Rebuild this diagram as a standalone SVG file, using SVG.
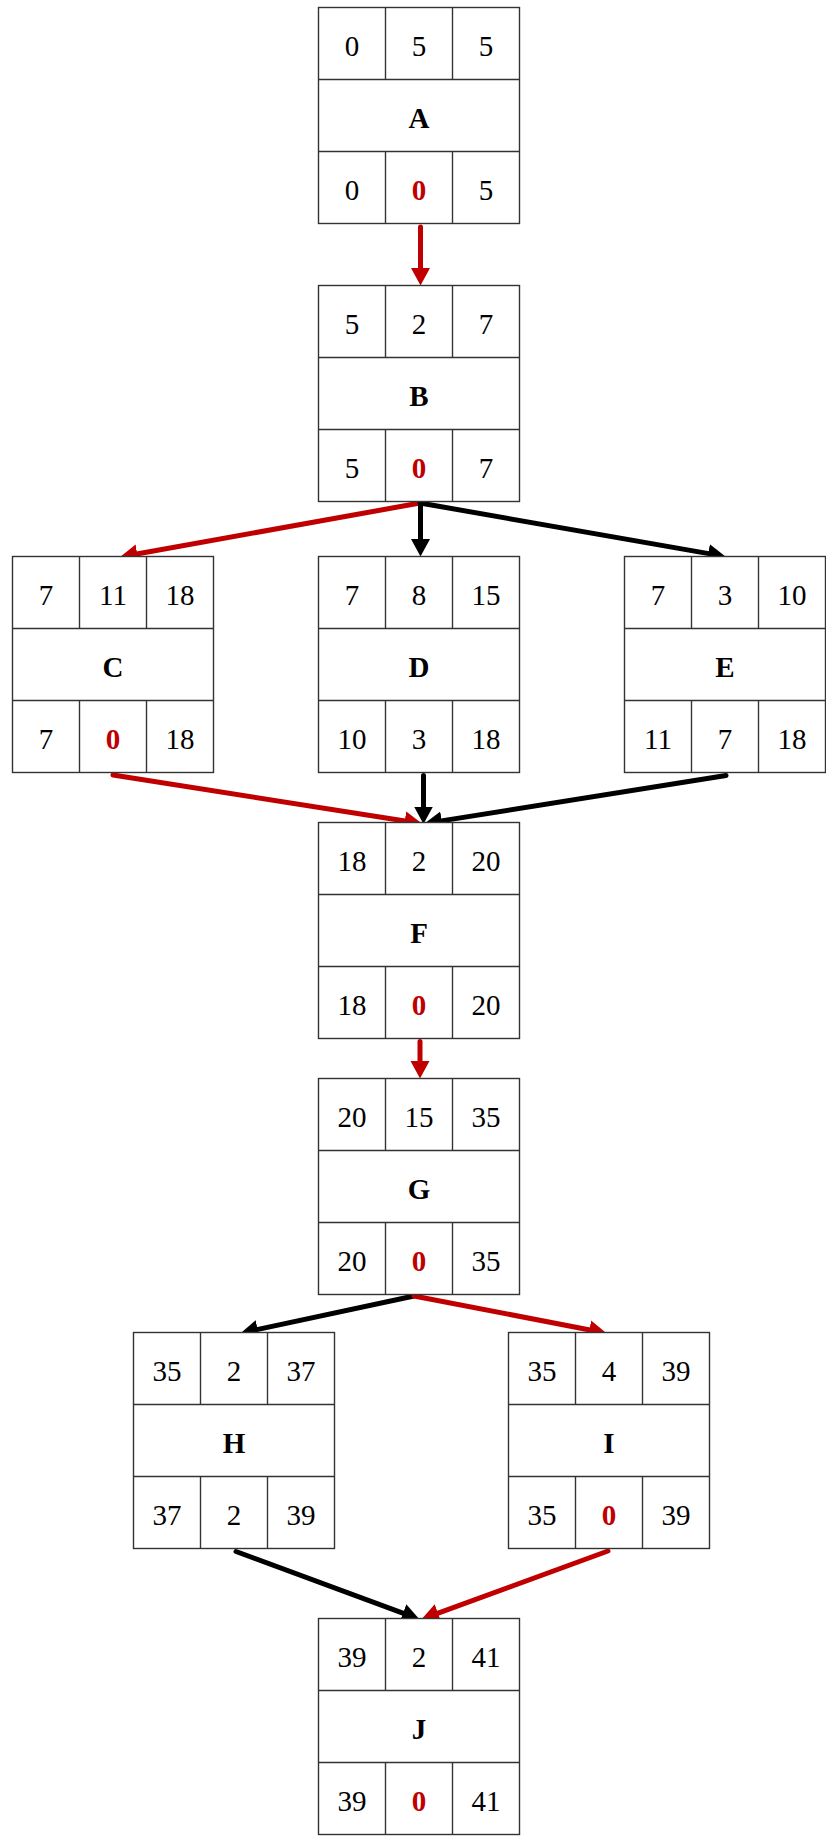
<svg xmlns="http://www.w3.org/2000/svg" width="826" height="1843" viewBox="0 0 826 1843">
<style>
.box{fill:#fff;stroke:#333;stroke-width:1.4}
.div{stroke:#333;stroke-width:1.4}
.t{font-family:"Liberation Serif","Times New Roman",serif;font-size:29px;text-anchor:middle;fill:#000}
.b{font-weight:bold}
.r{fill:#c00000;font-weight:bold}
.e{fill:none;stroke-width:5;stroke-linecap:round}
.ek{stroke:#000}
.er{stroke:#c00000}
</style>
<defs>
<marker id="ak" markerUnits="userSpaceOnUse" markerWidth="20" markerHeight="20" viewBox="0 -10 20 20" refX="2" refY="0" orient="auto"><path d="M0,-9.5 L17.5,0 L0,9.5 z" fill="#000"/></marker>
<marker id="ar" markerUnits="userSpaceOnUse" markerWidth="20" markerHeight="20" viewBox="0 -10 20 20" refX="2" refY="0" orient="auto"><path d="M0,-9.5 L17.5,0 L0,9.5 z" fill="#c00000"/></marker>
<g id="frame">
<rect class="box" x="0" y="0" width="201" height="216"/>
<line class="div" x1="0" y1="72" x2="201" y2="72"/>
<line class="div" x1="0" y1="144" x2="201" y2="144"/>
<line class="div" x1="67" y1="0" x2="67" y2="72"/>
<line class="div" x1="134" y1="0" x2="134" y2="72"/>
<line class="div" x1="67" y1="144" x2="67" y2="216"/>
<line class="div" x1="134" y1="144" x2="134" y2="216"/>
</g>
</defs>
<g id="connectors">
<line class="e er" x1="420.5" y1="227" x2="420.5" y2="270" marker-end="url(#ar)"/>
<line class="e er" x1="420" y1="503" x2="135.3" y2="554.3" marker-end="url(#ar)"/>
<line class="e ek" x1="420.5" y1="503" x2="420.5" y2="541" marker-end="url(#ak)"/>
<line class="e ek" x1="420" y1="503" x2="710.2" y2="553.9" marker-end="url(#ak)"/>
<line class="e er" x1="113" y1="775" x2="406.7" y2="821.2" marker-end="url(#ar)"/>
<line class="e ek" x1="423.5" y1="775.5" x2="423.5" y2="808.5" marker-end="url(#ak)"/>
<line class="e ek" x1="726" y1="775.5" x2="439.8" y2="821.1" marker-end="url(#ak)"/>
<line class="e er" x1="420" y1="1041.5" x2="420" y2="1063" marker-end="url(#ar)"/>
<line class="e ek" x1="414" y1="1296" x2="255.7" y2="1329.9" marker-end="url(#ak)"/>
<line class="e er" x1="414" y1="1296" x2="591.3" y2="1330.2" marker-end="url(#ar)"/>
<line class="e ek" x1="236" y1="1551.5" x2="404.9" y2="1613.8" marker-end="url(#ak)"/>
<line class="e er" x1="608" y1="1551" x2="436.1" y2="1613.9" marker-end="url(#ar)"/>
</g>
<g id="A" transform="translate(318.5,7.5)"><use href="#frame"/>
<text class="t" x="33.5" y="48">0</text><text class="t" x="100.5" y="48">5</text><text class="t" x="167.5" y="48">5</text>
<text class="t b" x="100.5" y="120">A</text>
<text class="t" x="33.5" y="192">0</text><text class="t r" x="100.5" y="192">0</text><text class="t" x="167.5" y="192">5</text></g>
<g id="B" transform="translate(318.5,285.5)"><use href="#frame"/>
<text class="t" x="33.5" y="48">5</text><text class="t" x="100.5" y="48">2</text><text class="t" x="167.5" y="48">7</text>
<text class="t b" x="100.5" y="120">B</text>
<text class="t" x="33.5" y="192">5</text><text class="t r" x="100.5" y="192">0</text><text class="t" x="167.5" y="192">7</text></g>
<g id="C" transform="translate(12.5,556.5)"><use href="#frame"/>
<text class="t" x="33.5" y="48">7</text><text class="t" x="100.5" y="48">11</text><text class="t" x="167.5" y="48">18</text>
<text class="t b" x="100.5" y="120">C</text>
<text class="t" x="33.5" y="192">7</text><text class="t r" x="100.5" y="192">0</text><text class="t" x="167.5" y="192">18</text></g>
<g id="D" transform="translate(318.5,556.5)"><use href="#frame"/>
<text class="t" x="33.5" y="48">7</text><text class="t" x="100.5" y="48">8</text><text class="t" x="167.5" y="48">15</text>
<text class="t b" x="100.5" y="120">D</text>
<text class="t" x="33.5" y="192">10</text><text class="t" x="100.5" y="192">3</text><text class="t" x="167.5" y="192">18</text></g>
<g id="E" transform="translate(624.5,556.5)"><use href="#frame"/>
<text class="t" x="33.5" y="48">7</text><text class="t" x="100.5" y="48">3</text><text class="t" x="167.5" y="48">10</text>
<text class="t b" x="100.5" y="120">E</text>
<text class="t" x="33.5" y="192">11</text><text class="t" x="100.5" y="192">7</text><text class="t" x="167.5" y="192">18</text></g>
<g id="F" transform="translate(318.5,822.5)"><use href="#frame"/>
<text class="t" x="33.5" y="48">18</text><text class="t" x="100.5" y="48">2</text><text class="t" x="167.5" y="48">20</text>
<text class="t b" x="100.5" y="120">F</text>
<text class="t" x="33.5" y="192">18</text><text class="t r" x="100.5" y="192">0</text><text class="t" x="167.5" y="192">20</text></g>
<g id="G" transform="translate(318.5,1078.5)"><use href="#frame"/>
<text class="t" x="33.5" y="48">20</text><text class="t" x="100.5" y="48">15</text><text class="t" x="167.5" y="48">35</text>
<text class="t b" x="100.5" y="120">G</text>
<text class="t" x="33.5" y="192">20</text><text class="t r" x="100.5" y="192">0</text><text class="t" x="167.5" y="192">35</text></g>
<g id="H" transform="translate(133.5,1332.5)"><use href="#frame"/>
<text class="t" x="33.5" y="48">35</text><text class="t" x="100.5" y="48">2</text><text class="t" x="167.5" y="48">37</text>
<text class="t b" x="100.5" y="120">H</text>
<text class="t" x="33.5" y="192">37</text><text class="t" x="100.5" y="192">2</text><text class="t" x="167.5" y="192">39</text></g>
<g id="I" transform="translate(508.5,1332.5)"><use href="#frame"/>
<text class="t" x="33.5" y="48">35</text><text class="t" x="100.5" y="48">4</text><text class="t" x="167.5" y="48">39</text>
<text class="t b" x="100.5" y="120">I</text>
<text class="t" x="33.5" y="192">35</text><text class="t r" x="100.5" y="192">0</text><text class="t" x="167.5" y="192">39</text></g>
<g id="J" transform="translate(318.5,1618.5)"><use href="#frame"/>
<text class="t" x="33.5" y="48">39</text><text class="t" x="100.5" y="48">2</text><text class="t" x="167.5" y="48">41</text>
<text class="t b" x="100.5" y="120">J</text>
<text class="t" x="33.5" y="192">39</text><text class="t r" x="100.5" y="192">0</text><text class="t" x="167.5" y="192">41</text></g>
</svg>
